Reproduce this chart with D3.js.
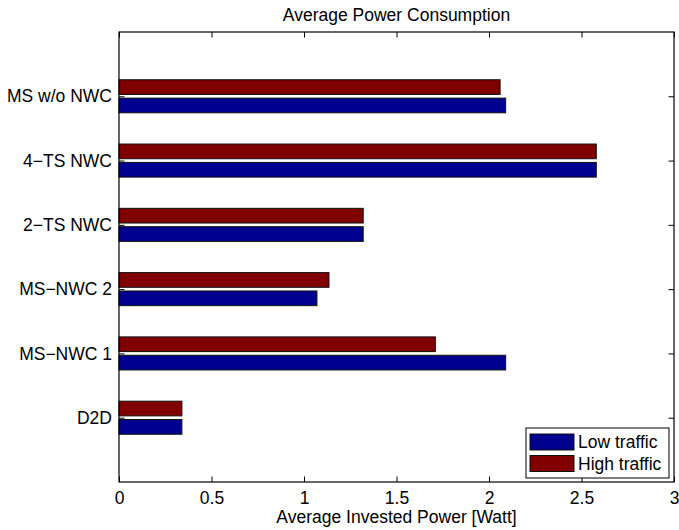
<!DOCTYPE html>
<html>
<head>
<meta charset="utf-8">
<script src="https://cdn.jsdelivr.net/npm/d3@7"></script>
<style>
  body { margin: 0; background: #fff; }
  text { font-family: "Liberation Sans", Arial, Helvetica, sans-serif; fill: #000; }
</style>
</head>
<body>
<div id="chart"></div>
<script>
// data, bottom to top as in the figure
var categories = ["D2D", "MS\u2212NWC 1", "MS\u2212NWC 2", "2\u2212TS NWC", "4\u2212TS NWC", "MS w/o NWC"];
var lowTraffic = [0.34, 2.09, 1.07, 1.32, 2.58, 2.09];
var highTraffic = [0.34, 1.71, 1.135, 1.32, 2.58, 2.06];
var seriesNames = ["Low traffic", "High traffic"];
var xTicks = [0, 0.5, 1, 1.5, 2, 2.5, 3];

var blue = "#00008f";
var red = "#800000";
var fontSize = 17.5;

var width = 679, height = 530;
var plotLeft = 119, plotRight = 674, plotTop = 32, plotBottom = 482;

var svg = d3.select("#chart").append("svg")
  .attr("width", width)
  .attr("height", height);

var x = d3.scaleLinear().domain([0, 3]).range([plotLeft, plotRight]);
var y = d3.scaleLinear().domain([0, 7]).range([plotBottom, plotTop]);

// two bars per group, like matlab grouped barh (first series at the bottom)
var groupWidth = 2 / 3.5;
var inner = d3.scaleBand()
  .domain(seriesNames)
  .range([-groupWidth / 2, groupWidth / 2])
  .paddingInner(0.2)
  .paddingOuter(0.1);

var rows = [];
categories.forEach(function (c, i) {
  rows.push({ cat: i + 1, name: "Low traffic", value: lowTraffic[i], color: blue });
  rows.push({ cat: i + 1, name: "High traffic", value: highTraffic[i], color: red });
});

svg.append("g").selectAll("rect")
  .data(rows)
  .enter().append("rect")
  .attr("x", x(0))
  .attr("y", function (d) { return y(d.cat + inner(d.name) + inner.bandwidth()); })
  .attr("width", function (d) { return x(d.value) - x(0); })
  .attr("height", function (d) { return y(0) - y(inner.bandwidth()); })
  .attr("fill", function (d) { return d.color; })
  .attr("stroke", "#111")
  .attr("stroke-width", 1);

// axes (ticks inside, mirrored on top / right)
var tickLen = 5.5;
var xAxis = d3.axisBottom(x).tickValues(xTicks).tickSize(-tickLen).tickPadding(10)
  .tickFormat(function (d) { return d3.format("")(d); });
var gx = svg.append("g").attr("transform", "translate(0," + plotBottom + ")").call(xAxis);
var gxTop = svg.append("g").attr("transform", "translate(0," + plotTop + ")")
  .call(d3.axisTop(x).tickValues(xTicks).tickSize(-tickLen).tickFormat(""));

var yAxis = d3.axisLeft(y).tickValues(d3.range(1, 7)).tickSize(-tickLen).tickPadding(7)
  .tickFormat(function (d) { return categories[d - 1]; });
var gy = svg.append("g").attr("transform", "translate(" + plotLeft + ",0)").call(yAxis);
var gyRight = svg.append("g").attr("transform", "translate(" + plotRight + ",0)")
  .call(d3.axisRight(y).tickValues(d3.range(1, 7)).tickSize(-tickLen).tickFormat(""));

[gx, gxTop, gy, gyRight].forEach(function (g) {
  g.select(".domain").remove();
  g.selectAll("line").attr("stroke", "#000");
  g.selectAll("text").style("font-size", fontSize + "px")
    .style("font-family", '"Liberation Sans", Arial, sans-serif');
});
gx.selectAll("text").attr("dy", "0.71em");

// frame
svg.append("rect")
  .attr("x", plotLeft).attr("y", plotTop)
  .attr("width", plotRight - plotLeft).attr("height", plotBottom - plotTop)
  .attr("fill", "none").attr("stroke", "#000").attr("stroke-width", 1.2);

// title and x label
svg.append("text")
  .attr("x", (plotLeft + plotRight) / 2).attr("y", 21)
  .attr("text-anchor", "middle")
  .style("font-size", fontSize + "px")
  .text("Average Power Consumption");

svg.append("text")
  .attr("x", (plotLeft + plotRight) / 2).attr("y", 523)
  .attr("text-anchor", "middle")
  .style("font-size", fontSize + "px")
  .text("Average Invested Power [Watt]");

// legend
var lg = svg.append("g").attr("transform", "translate(526,428)");
lg.append("rect").attr("width", 143).attr("height", 50)
  .attr("fill", "#fff").attr("stroke", "#000").attr("stroke-width", 1);
var items = [{ name: seriesNames[0], color: blue }, { name: seriesNames[1], color: red }];
var li = lg.selectAll(".item").data(items).enter().append("g")
  .attr("class", "item")
  .attr("transform", function (d, i) { return "translate(4," + (6 + i * 21.5) + ")"; });
li.append("rect").attr("width", 44).attr("height", 16)
  .attr("fill", function (d) { return d.color; })
  .attr("stroke", "#111");
li.append("text").attr("x", 48).attr("y", 14)
  .style("font-size", fontSize + "px")
  .text(function (d) { return d.name; });
</script>
</body>
</html>
